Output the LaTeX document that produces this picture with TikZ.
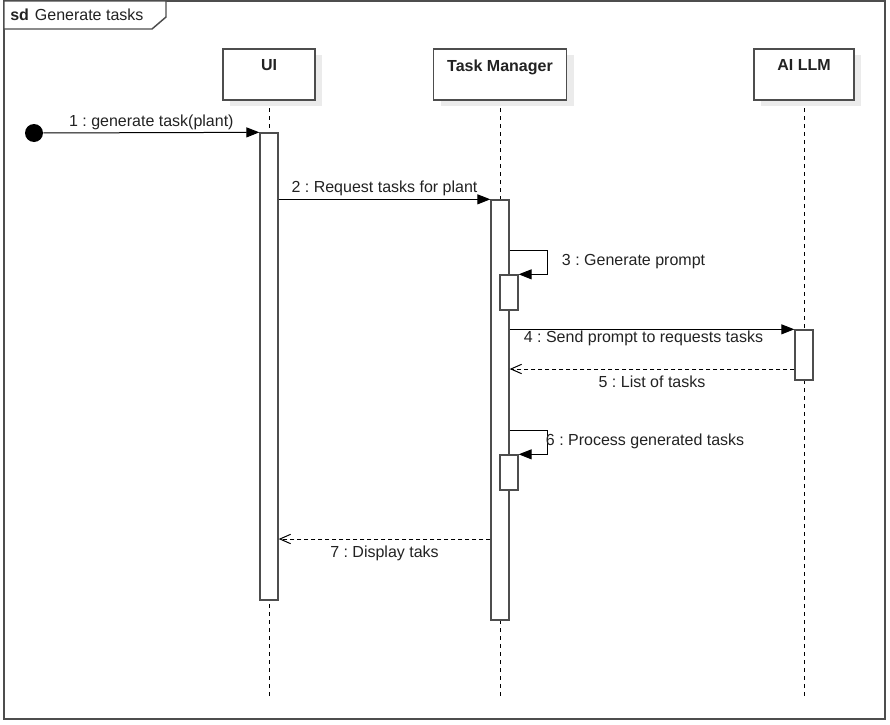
\documentclass[tikz,border=0pt]{standalone}
\usepackage{fontspec}
\setmainfont{Liberation Sans}
\usetikzlibrary{arrows.meta,shadows}
\definecolor{edge}{HTML}{4D4D4D}
\definecolor{ink}{HTML}{222222}
\definecolor{shade}{HTML}{EBEBEB}
\frenchspacing

\begin{document}
\begin{tikzpicture}[x=0.75pt,y=-0.75pt,
  every node/.style={font=\fontsize{12}{14}\selectfont, text=ink},
  head/.style={draw=edge, fill=white, line width=1.2pt, minimum height=38.25pt,
    inner sep=0pt, drop shadow={fill=shade, opacity=1, shadow xshift=5.5pt, shadow yshift=-4.5pt}},
  headtitle/.style={anchor=north, inner sep=0pt, yshift=-8.5pt, font=\fontsize{12}{14}\selectfont\bfseries},
  act/.style={draw=edge, fill=white, line width=1pt, minimum width=13.5pt, inner sep=0pt},
  lifeline/.style={draw=black, line width=0.75pt, dash pattern=on 3pt off 3pt},
  msg/.style={draw=black, line width=0.75pt, -{Triangle[length=9.75pt,width=7.5pt]}},
  ret/.style={draw=black, line width=0.75pt, dash pattern=on 3pt off 2.25pt,
    -{Straight Barb[length=8pt,width=7pt,line width=0.75pt]}},
  mlabel/.style={inner sep=2pt},
  blabel/.style={below, inner sep=2pt, yshift=-2.5pt},
]
\useasboundingbox (0,0) rectangle (890,725);

% frame and its title tab
\draw[edge, line width=1.3pt] (4,1) rectangle (885,719);
\draw[edge, line width=1.1pt, fill=white] (4,1) -- (166,1) -- (166,17) -- (152,29) -- (4,29) -- cycle;
\node[anchor=base west, inner sep=0pt] (title) at (10,20) {\textbf{sd}\hspace{4.5pt}Generate tasks};

% lifeline ends
\coordinate (uiend) at (269,697);
\coordinate (tmend) at (500,697);
\coordinate (aiend) at (804,697);

% lifelines (drawn first so boxes sit on top)
\draw[lifeline] (269,100) -- (uiend);
\draw[lifeline] (500,100) -- (tmend);
\draw[lifeline] (804,100) -- (aiend);

% participant heads
\node[head, minimum width=69pt, label={[headtitle]north:UI}] (ui) at (269,74.5) {};
\node[head, minimum width=99.75pt, label={[headtitle]north:Task Manager}] (tm) at (500,74.5) {};
\node[head, minimum width=75pt, label={[headtitle]north:AI LLM}] (ai) at (804,74.5) {};

% activation bars
\node[act, minimum height=350.25pt] (a1) at (269,366.5) {};
\node[act, minimum height=315pt] (a2) at (500,410) {};
\node[act, minimum height=26.25pt] (a3) at (509,292.5) {};
\node[act, minimum height=37.5pt] (a4) at (804,355) {};
\node[act, minimum height=26.25pt] (a6) at (509,472.5) {};

% found message start
\node[circle, fill=black, minimum size=13.5pt, inner sep=0pt] (start) at (34,133) {};

% helper coordinates for message rows and loop corners
\coordinate (l3) at (547,250);
\coordinate (y5) at (0,369);
\coordinate (l6) at (547,430);
\coordinate (y7) at (0,539);

% messages
\draw[msg] (start) -- (a1.north west)
  node[midway, above, mlabel] {1 : generate task(plant)};
\draw[msg] (a2.north west -| a1.east) -- (a2.north west)
  node[midway, above, mlabel] {2 : Request tasks for plant};
\draw[msg] (a2.east |- l3) -- (l3) |- (a3.north east);
\node[anchor=west, mlabel] (lab3) at (559,262) {3 : Generate prompt};
\draw[msg] (a4.north west -| a2.east) -- (a4.north west)
  node[pos=0.47, below, inner sep=1pt] {4 : Send prompt to requests tasks};
\draw[ret] (a4.west |- y5) -- (a2.east |- y5)
  node[midway, blabel] {5 : List of tasks};
\draw[msg] (a2.east |- l6) -- (l6) |- (a6.north east);
\node[anchor=west, mlabel] (lab6) at (543,441) {6 : Process generated tasks};
\draw[ret] (a2.west |- y7) -- (a1.east |- y7)
  node[midway, blabel] {7 : Display taks};
\end{tikzpicture}
\end{document}
